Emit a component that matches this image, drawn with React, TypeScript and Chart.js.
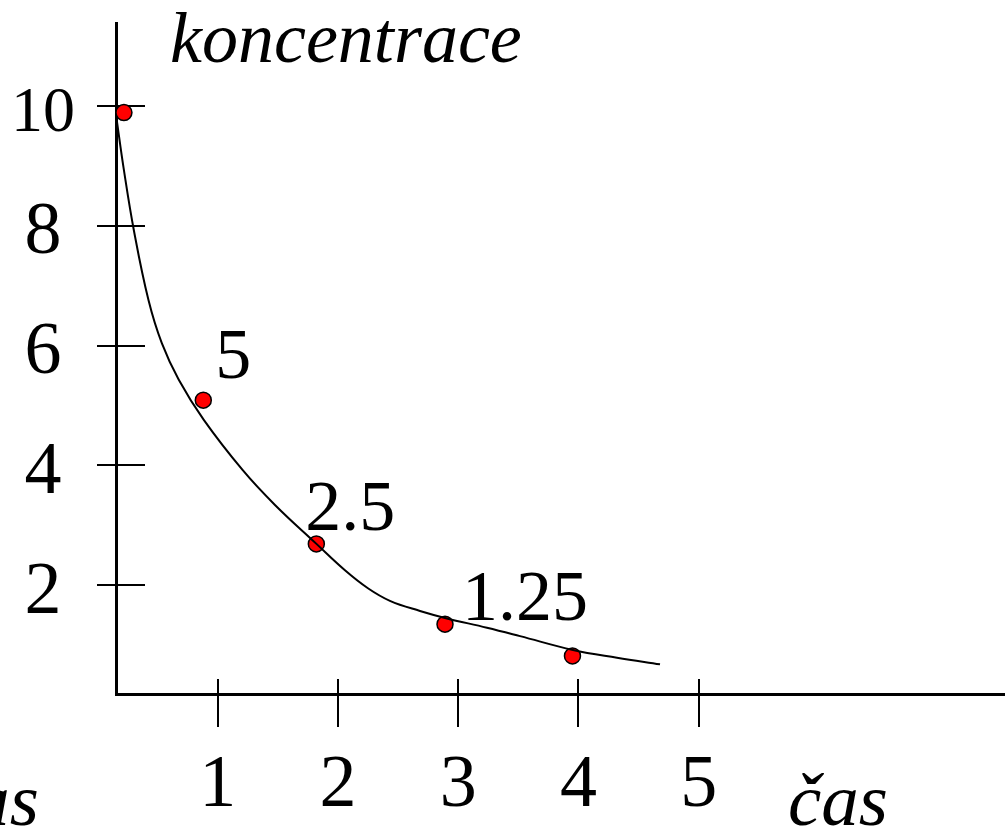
import React, { useEffect, useRef } from "react";
import { Chart, registerables } from "chart.js";

Chart.register(...registerables);

// ---- data ----
const xTickValues = [1, 2, 3, 4, 5];
const yTickValues = [2, 4, 6, 8, 10];

// measured points (red dots)
const pointX = [0.22, 0.88, 1.82, 2.89, 3.95];
const pointY = [9.89, 5.09, 2.69, 1.35, 0.82];
const pointLabels = ["", "5", "2.5", "1.25", ""];

// smooth decay curve, sampled along the drawn line
const curveX = [
  0.16, 0.216, 0.304, 0.424, 0.535, 0.676, 0.884, 1.208, 1.476, 1.821,
  2.058, 2.249, 2.432, 2.682, 2.898, 3.239, 3.514, 3.954, 4.32, 4.678,
];
const curveY = [
  9.77, 8.98, 7.91, 6.76, 6.04, 5.43, 4.76, 3.92, 3.34, 2.69,
  2.25, 1.95, 1.74, 1.57, 1.45, 1.29, 1.15, 0.92, 0.79, 0.68,
];

const xAxisTitle = "čas";
const yAxisTitle = "koncentrace";

const xRange = { min: 0.154, max: 7.547 };
const yRange = { min: 0.184, max: 11.386 };

// placement of the value labels relative to their dot (left edge, baseline)
const labelOffsets: Array<[number, number]> = [
  [0, 0],
  [12, -22],
  [-11, -14],
  [17, -4],
  [0, 0],
];

const SERIF = '"Liberation Serif", "Times New Roman", serif';

const decorPlugin = {
  id: "decor",
  beforeDatasetsDraw(chart: any) {
    const ctx = chart.ctx;
    const xs = chart.scales.x;
    const ys = chart.scales.y;
    const { left, bottom } = chart.chartArea;
    ctx.save();
    ctx.strokeStyle = "#000";
    ctx.lineWidth = 2;
    ctx.beginPath();
    xs.ticks.forEach((t: any) => {
      const px = Math.round(xs.getPixelForValue(t.value));
      ctx.moveTo(px, bottom - 15);
      ctx.lineTo(px, bottom + 33);
    });
    ys.ticks.forEach((t: any) => {
      const py = Math.round(ys.getPixelForValue(t.value));
      ctx.moveTo(left - 19, py);
      ctx.lineTo(left + 29, py);
    });
    ctx.stroke();
    ctx.restore();
  },
  afterDraw(chart: any) {
    const ctx = chart.ctx;
    const { left, top } = chart.chartArea;
    ctx.save();
    ctx.fillStyle = "#000";
    ctx.textBaseline = "alphabetic";
    // value labels next to points
    ctx.font = `72px ${SERIF}`;
    ctx.textAlign = "left";
    const meta = chart.getDatasetMeta(1);
    meta.data.forEach((el: any, i: number) => {
      const txt = pointLabels[i];
      if (!txt) return;
      const [dx, dy] = labelOffsets[i];
      ctx.fillText(txt, el.x + dx, el.y + dy);
    });
    // axis titles
    ctx.font = `italic 72px ${SERIF}`;
    ctx.fillText(yAxisTitle, left + 54, top + 39);
    ctx.font = `italic 75px ${SERIF}`;
    ctx.fillText(xAxisTitle, 788, 825);
    ctx.textAlign = "right";
    ctx.fillText(xAxisTitle, 39, 825);
    ctx.restore();
  },
};

export default function App() {
  const canvasRef = useRef<HTMLCanvasElement | null>(null);

  useEffect(() => {
    document.body.style.margin = "0";
    const canvas = canvasRef.current;
    if (!canvas) return;

    const chart = new Chart(canvas, {
      type: "scatter",
      data: {
        datasets: [
          {
            data: curveX.map((x, i) => ({ x, y: curveY[i] })),
            showLine: true,
            borderColor: "#000",
            borderWidth: 2,
            pointRadius: 0,
            pointHoverRadius: 0,
            tension: 0.4,
            fill: false,
          } as any,
          {
            data: pointX.map((x, i) => ({ x, y: pointY[i] })),
            showLine: false,
            pointRadius: 8,
            pointHoverRadius: 8,
            backgroundColor: "#ff0000",
            borderColor: "#000",
            borderWidth: 1.5,
          } as any,
        ],
      },
      options: {
        animation: false,
        responsive: false,
        devicePixelRatio: 1,
        layout: { autoPadding: false, padding: { top: 23, left: 0, right: 0, bottom: 0 } },
        plugins: {
          legend: { display: false },
          tooltip: { enabled: false },
        },
        scales: {
          x: {
            type: "linear",
            position: "bottom",
            min: xRange.min,
            max: xRange.max,
            afterBuildTicks: (scale: any) => {
              scale.ticks = xTickValues.map((v) => ({ value: v }));
            },
            afterFit: (scale: any) => {
              scale.height = 133;
              scale.paddingLeft = 0;
              scale.paddingRight = 0;
            },
            grid: { display: false, drawTicks: false },
            border: { display: true, color: "#000", width: 3 },
            ticks: {
              autoSkip: false,
              maxRotation: 0,
              padding: 48,
              color: "#000",
              font: { family: SERIF, size: 74 },
              callback: (v: any) => String(v),
            },
          },
          y: {
            type: "linear",
            position: "left",
            min: yRange.min,
            max: yRange.max,
            afterBuildTicks: (scale: any) => {
              scale.ticks = yTickValues.map((v) => ({ value: v }));
            },
            afterFit: (scale: any) => {
              scale.width = 116;
              scale.paddingTop = 0;
              scale.paddingBottom = 0;
            },
            grid: { display: false, drawTicks: false },
            border: { display: true, color: "#000", width: 3 },
            ticks: {
              autoSkip: false,
              padding: 41,
              crossAlign: "center",
              labelOffset: 8,
              color: "#000",
              font: (c: any) => ({
                family: SERIF,
                size: c.tick && c.tick.value === 10 ? 64 : 74,
              }),
              callback: (v: any) => String(v),
            },
          },
        },
      },
      plugins: [decorPlugin],
    });

    return () => {
      chart.destroy();
    };
  }, []);

  return (
    <div style={{ width: 1005, height: 827, background: "#fff" }}>
      <canvas ref={canvasRef} width={1005} height={827} style={{ display: "block" }} />
    </div>
  );
}
